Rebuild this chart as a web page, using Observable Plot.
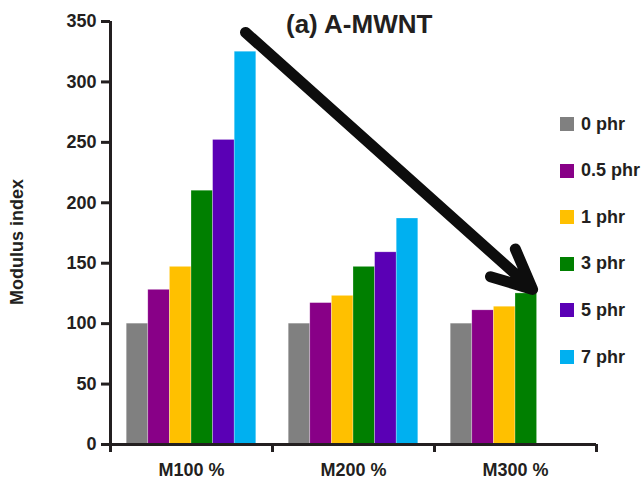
<!DOCTYPE html>
<html>
<head>
<meta charset="utf-8">
<script src="https://cdn.jsdelivr.net/npm/d3@7"></script>
<script src="https://cdn.jsdelivr.net/npm/@observablehq/plot@0.6"></script>
<style>
  body { margin: 0; background: #fff; }
  #wrap { position: relative; width: 642px; height: 479px; overflow: hidden;
          font-family: "Liberation Sans", Arial, sans-serif; font-weight: bold; color: #231f20; }
  #wrap svg { display: block; }
  .ov { position: absolute; white-space: nowrap; }
  #title { left: 286px; top: 11px; font-size: 26px; line-height: 26px; }
  #ylab { left: 17px; top: 242px; font-size: 18px; line-height: 18px;
          transform: translate(-50%, -50%) rotate(-90deg); }
  .sw { position: absolute; width: 14px; height: 14px; }
  .lt { position: absolute; font-size: 18px; line-height: 18px; }
</style>
</head>
<body>
<div id="wrap"></div>
<script>
// ---- data ----
const groups = ["M100 %", "M200 %", "M300 %"];
const series = ["0 phr", "0.5 phr", "1 phr", "3 phr", "5 phr", "7 phr"];
const colors = ["#808080", "#880087", "#ffc000", "#007f00", "#5a00b5", "#00b0f0"];
const m100 = [100, 128, 147, 210, 252, 325];
const m200 = [100, 117, 123, 147, 159, 187];
const m300 = [100, 111, 114, 125];
const yTicks = [0, 50, 100, 150, 200, 250, 300, 350];
const titleText = "(a) A-MWNT";
const yLabel = "Modulus index";
const arrowFromValue = 341;          // arrow starts above M100 / 7 phr
const arrowFrom = ["M100 %", "7 phr"];
const arrowTo = ["M300 %", "3 phr"];  // ends at top of this bar

// ---- build table ----
const valuesByGroup = [m100, m200, m300];
const inner = d3.scaleBand(series, [0, 1]).paddingInner(0).paddingOuter(0.75);
const bw = inner.bandwidth();
const rows = [];
valuesByGroup.forEach((vals, gi) => {
  vals.forEach((v, si) => {
    rows.push({group: groups[gi], series: series[si], value: v,
               x1: gi + inner(series[si]), x2: gi + inner(series[si]) + bw});
  });
});
const find = (g, s) => rows.find(r => r.group === g && r.series === s);
const a0 = find(...arrowFrom), a1 = find(...arrowTo);
const arrowRow = {x1: (a0.x1 + a0.x2) / 2, y1: arrowFromValue, x2: a1.x2, y2: a1.value};

const plot = Plot.plot({
  width: 642, height: 479,
  marginLeft: 110, marginRight: 46, marginTop: 21, marginBottom: 35,
  x: {domain: [0, groups.length], axis: null},
  y: {domain: [0, 350], axis: null},
  color: {domain: series, range: colors},
  style: {fontFamily: "Liberation Sans, Arial, sans-serif", fontWeight: "bold",
          color: "#231f20", background: "white", overflow: "visible"},
  marks: [
    Plot.rectY(rows, {x1: "x1", x2: "x2", y: "value", fill: "series",
                      stroke: "white", strokeWidth: 0.6, strokeOpacity: 0.45}),
    Plot.ruleX([0], {stroke: "#231f20", strokeWidth: 3}),
    Plot.ruleY([0], {stroke: "#231f20", strokeWidth: 3}),
    Plot.axisY({ticks: yTicks, tickSize: 9, tickPadding: 5, fontSize: 18,
                strokeWidth: 3, stroke: "#231f20", label: null}),
    Plot.axisX({ticks: d3.range(groups.length + 1), tickSize: 8, strokeWidth: 3,
                stroke: "#231f20", tickFormat: () => "", label: null}),
    Plot.axisX({ticks: groups.map((g, i) => i + 0.5), tickSize: 0, tickPadding: 19,
                fontSize: 18, tickFormat: d => groups[Math.floor(d)], label: null}),
    Plot.arrow([arrowRow], {x1: "x1", y1: "y1", x2: "x2", y2: "y2", insetEnd: 6,
                stroke: "#0d0d0d", strokeWidth: 11, headLength: 6, headAngle: 50})
  ]
});

const wrap = document.getElementById("wrap");
wrap.appendChild(plot);

const t = document.createElement("div");
t.className = "ov"; t.id = "title"; t.textContent = titleText;
wrap.appendChild(t);

const yl = document.createElement("div");
yl.className = "ov"; yl.id = "ylab"; yl.textContent = yLabel;
wrap.appendChild(yl);

const color = plot.scale("color");
series.forEach((s, i) => {
  const top = 117 + i * 46.6;
  const sq = document.createElement("div");
  sq.className = "sw";
  sq.style.left = "560px"; sq.style.top = top + "px";
  sq.style.background = color.apply(s);
  wrap.appendChild(sq);
  const lab = document.createElement("div");
  lab.className = "lt";
  lab.style.left = "581px"; lab.style.top = (top - 2.5) + "px";
  lab.textContent = s;
  wrap.appendChild(lab);
});
</script>
</body>
</html>
